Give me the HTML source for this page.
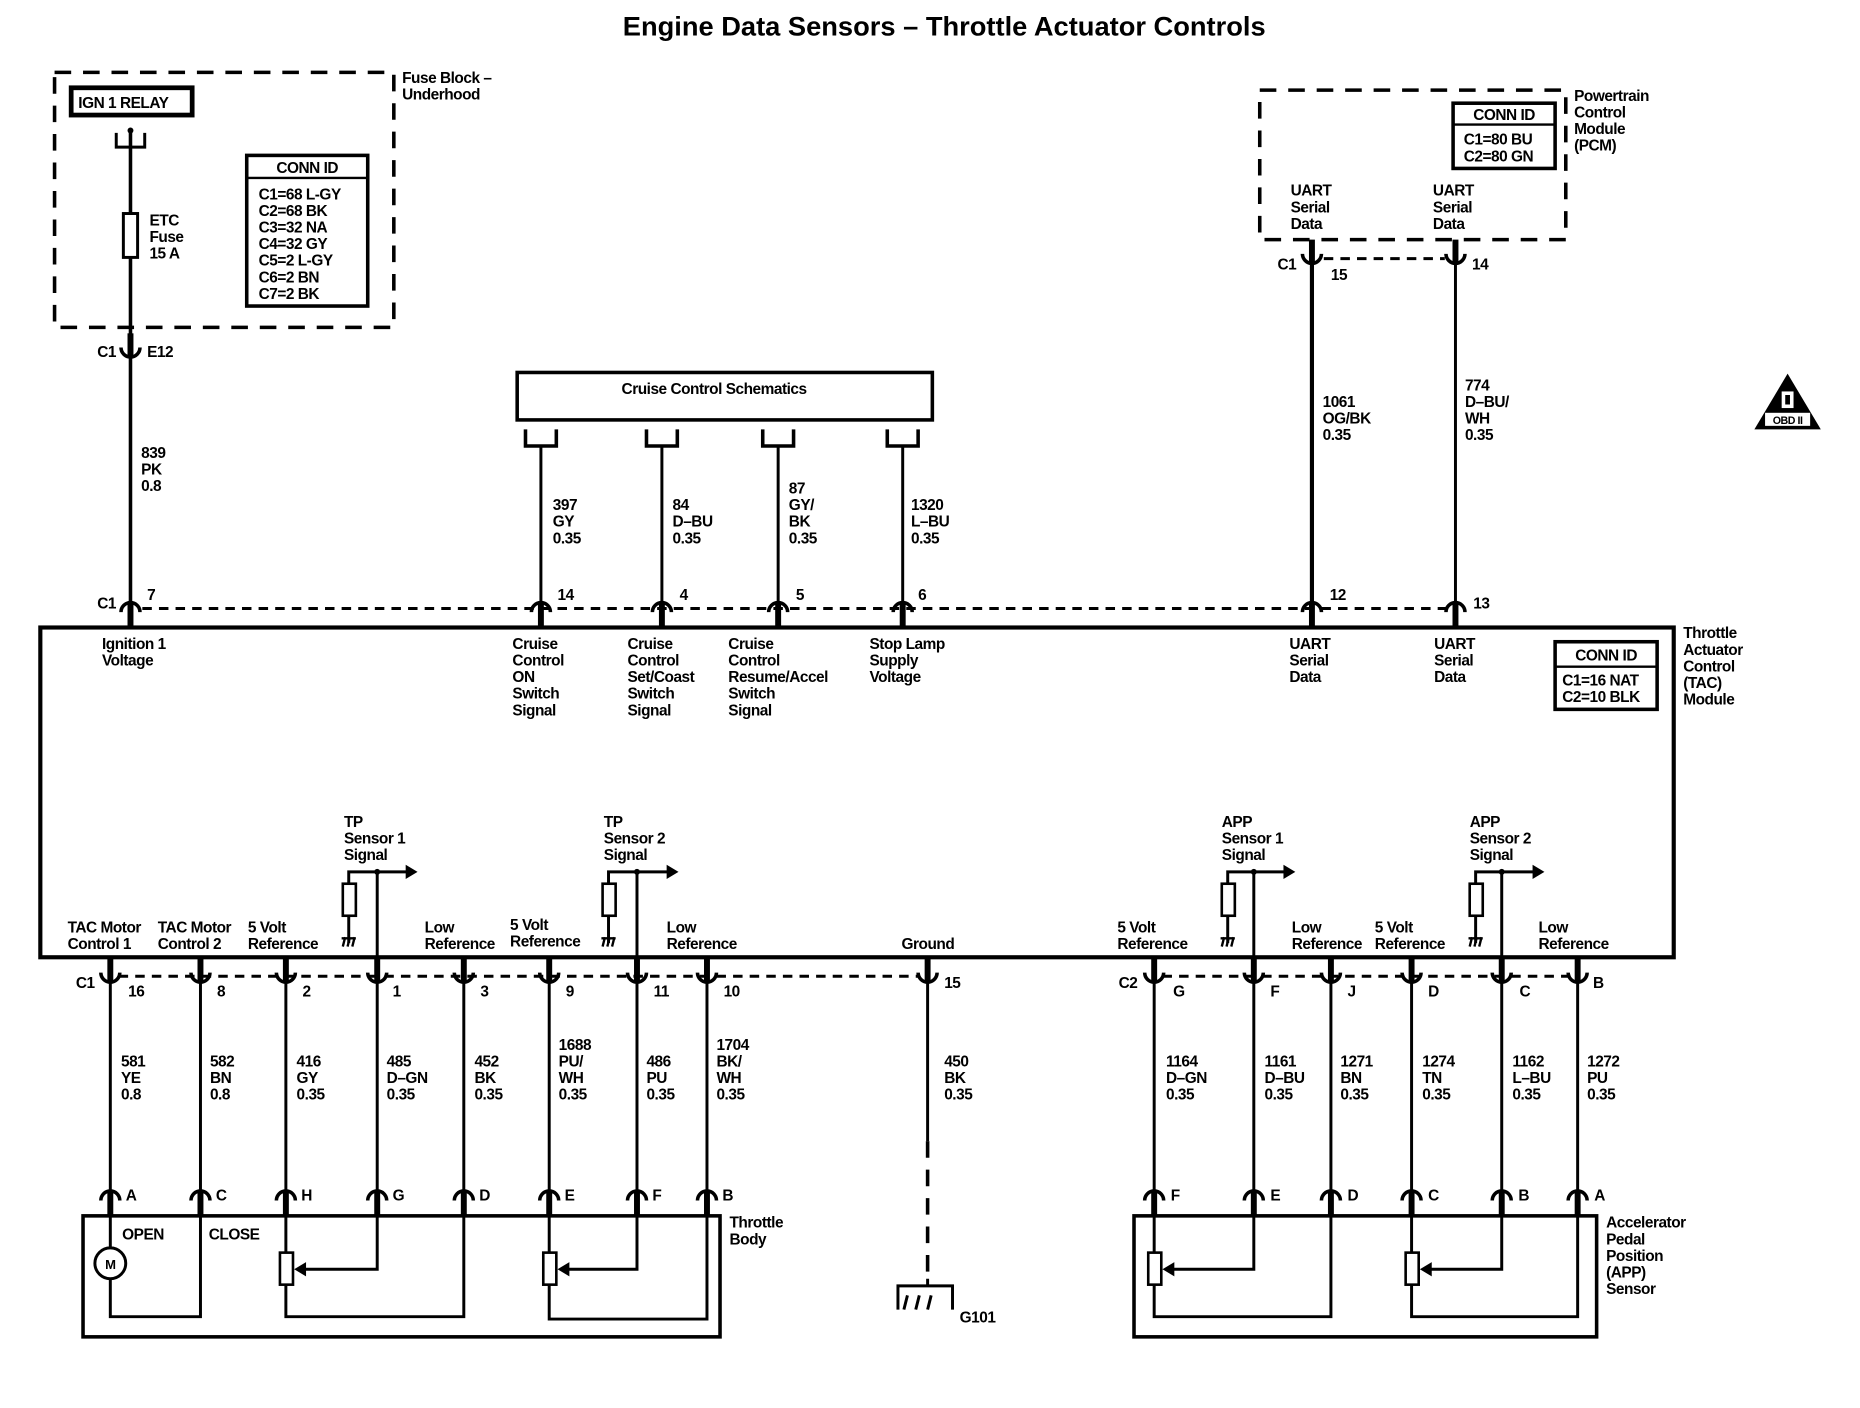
<!DOCTYPE html>
<html><head><meta charset="utf-8"><style>
html,body{margin:0;padding:0;background:#fff;}
svg{display:block;}
text{font-family:"Liberation Sans",sans-serif;font-size:13px;font-weight:bold;fill:#000;letter-spacing:-0.4px;}
.t{font-size:23px;letter-spacing:0;}
.m{text-anchor:middle;}
</style></head><body>
<svg width="1860" height="1408" viewBox="0 0 1550 1173.33" preserveAspectRatio="none" xmlns="http://www.w3.org/2000/svg">
<defs>
<g id="cd"><path d="M-8,4 A8,8 0 0 1 8,4" fill="none" stroke="#000" stroke-width="3"/><rect x="-2.5" y="-4" width="5" height="20" fill="#000"/></g>
<g id="cu"><path d="M-8,-4 A8,8 0 0 0 8,-4" fill="none" stroke="#000" stroke-width="3"/><rect x="-2.5" y="-16" width="5" height="20" fill="#000"/></g>
<g id="gnd"><path d="M-6,8 L-4,0 M-2,8 L0,0 M2,8 L4,0 M-7,1 H5" stroke="#000" stroke-width="2" fill="none"/></g>
</defs>
<rect width="1550" height="1173.33" fill="#fff"/>
<g transform="scale(0.9885)">
<text x="796" y="30" class="t m">Engine Data Sensors – Throttle Actuator Controls</text>

<g fill="none" stroke="#000">
<rect x="46" y="61" width="286" height="215" stroke-width="3" stroke-dasharray="14,10"/>
<rect x="60" y="74" width="102" height="23" stroke-width="4"/>
<rect x="208" y="131" width="102" height="127" stroke-width="3"/>
<line x1="208" y1="150" x2="310" y2="150" stroke-width="2"/>
<path d="M98,112 V124 H122 V112" stroke-width="2.5"/>
<line x1="110" y1="110" x2="110" y2="510" stroke-width="3"/>
<rect x="104" y="180" width="12" height="37" stroke-width="2.5" fill="#fff"/>
<rect x="436" y="314" width="350" height="40" stroke-width="3"/>
<path d="M443,362 V376 H469 V362 M545,362 V376 H571 V362 M643,362 V376 H669 V362 M748,362 V376 H774 V362" stroke-width="3"/>
<path d="M456,376 V510 M558,376 V510 M656,376 V510 M761,376 V510" stroke-width="2.5"/>
<rect x="1062" y="76" width="258" height="126" stroke-width="3" stroke-dasharray="14,10"/>
<rect x="1225" y="87" width="86" height="55" stroke-width="3"/>
<line x1="1225" y1="105" x2="1311" y2="105" stroke-width="2"/>
<line x1="1106" y1="218" x2="1106" y2="510" stroke-width="3.5"/>
<line x1="1227" y1="218" x2="1227" y2="510" stroke-width="2.5"/>
<line x1="1116" y1="218" x2="1218" y2="218" stroke-width="2.5" stroke-dasharray="8,6"/>
<rect x="34" y="529" width="1377" height="278" stroke-width="3.5"/>
<rect x="1311" y="541" width="86" height="57" stroke-width="3"/>
<line x1="1311" y1="562" x2="1397" y2="562" stroke-width="2"/>
<line x1="120" y1="513" x2="1220" y2="513" stroke-width="2.5" stroke-dasharray="8,6"/>
<line x1="100" y1="823" x2="775" y2="823" stroke-width="2.5" stroke-dasharray="8,6"/>
<line x1="980" y1="823" x2="1325" y2="823" stroke-width="2.5" stroke-dasharray="8,6"/>
<path d="M93,828 V1004 M169,828 V1004 M241,828 V1004 M318,828 V1004 M391,828 V1004 M463,828 V1004 M537,828 V1004 M596,828 V1004" stroke-width="2.5"/>
<path d="M973,828 V1004 M1057,828 V1004 M1122,828 V1004 M1190,828 V1004 M1266,828 V1004 M1330,828 V1004" stroke-width="2.5"/>
<path d="M782,828 V962" stroke-width="2.5"/>
<path d="M782,962 V1080" stroke-width="3" stroke-dasharray="14,10"/>
<path d="M782,1078 V1084 M757,1104 V1084 H803 V1104" stroke-width="2.5"/>
<path d="M318,807 V735 M294,772 V795 M294,745 V735 H344" stroke-width="2.5"/>
<rect x="289" y="745" width="11" height="27" stroke-width="2.2"/>
<path d="M537,807 V735 M513,772 V795 M513,745 V735 H563" stroke-width="2.5"/>
<rect x="508" y="745" width="11" height="27" stroke-width="2.2"/>
<path d="M1057,807 V735 M1035,772 V795 M1035,745 V735 H1083" stroke-width="2.5"/>
<rect x="1030" y="745" width="11" height="27" stroke-width="2.2"/>
<path d="M1266,807 V735 M1244,772 V795 M1244,745 V735 H1293" stroke-width="2.5"/>
<rect x="1239" y="745" width="11" height="27" stroke-width="2.2"/>
<rect x="70" y="1025" width="537" height="102" stroke-width="3"/>
<path d="M93,1024 V1052 M93,1078 V1110 H169 V1024" stroke-width="2.5"/>
<circle cx="93" cy="1065" r="13" stroke-width="2.5"/>
<path d="M241,1024 V1110 H391 V1024" stroke-width="2.5"/>
<rect x="236" y="1056" width="11" height="27" stroke-width="2.2" fill="#fff"/>
<path d="M318,1024 V1070 H256" stroke-width="2.5"/>
<path d="M463,1024 V1112 H596 V1024" stroke-width="2.5"/>
<rect x="458" y="1056" width="11" height="27" stroke-width="2.2" fill="#fff"/>
<path d="M537,1024 V1070 H478" stroke-width="2.5"/>
<rect x="956" y="1025" width="390" height="102" stroke-width="3"/>
<path d="M973,1024 V1110 H1122 V1024" stroke-width="2.5"/>
<rect x="968" y="1056" width="11" height="27" stroke-width="2.2" fill="#fff"/>
<path d="M1057,1024 V1070 H988" stroke-width="2.5"/>
<path d="M1190,1024 V1110 H1330 V1024" stroke-width="2.5"/>
<rect x="1185" y="1056" width="11" height="27" stroke-width="2.2" fill="#fff"/>
<path d="M1266,1024 V1070 H1205" stroke-width="2.5"/>
</g>
<g fill="#000">
<circle cx="110" cy="110" r="2.5"/>
<circle cx="318" cy="735" r="2.5"/><circle cx="537" cy="735" r="2.5"/><circle cx="1057" cy="735" r="2.5"/><circle cx="1266" cy="735" r="2.5"/>
<path d="M352,735 l-10,-6 v12z M572,735 l-10,-6 v12z M1092,735 l-10,-6 v12z M1302,735 l-10,-6 v12z"/>
<path d="M248,1070 l10,-6 v12z M470,1070 l10,-6 v12z M980,1070 l10,-6 v12z M1197,1070 l10,-6 v12z"/>
<path d="M762,1104 l3,-12 M772,1104 l3,-12 M782,1104 l3,-12" stroke="#000" stroke-width="2.5"/>
<path d="M1507,315 L1535,362 H1479 Z"/>
<rect x="1502" y="330" width="10" height="14" fill="#fff"/>
<rect x="1505" y="333" width="4" height="8" fill="#000"/>
<rect x="1488" y="348" width="38" height="11" fill="#fff"/>
</g>
<text x="1507" y="357.5" class="m" style="font-size:9px">OBD II</text>

<use href="#cu" x="110" y="297"/>
<use href="#cd" x="110" y="512"/><use href="#cd" x="456" y="512"/><use href="#cd" x="558" y="512"/><use href="#cd" x="656" y="512"/><use href="#cd" x="761" y="512"/><use href="#cd" x="1106" y="512"/><use href="#cd" x="1227" y="512"/>
<use href="#cu" x="1106" y="218"/><use href="#cu" x="1227" y="218"/>
<use href="#cu" x="93" y="824"/><use href="#cu" x="169" y="824"/><use href="#cu" x="241" y="824"/><use href="#cu" x="318" y="824"/><use href="#cu" x="391" y="824"/><use href="#cu" x="463" y="824"/><use href="#cu" x="537" y="824"/><use href="#cu" x="596" y="824"/><use href="#cu" x="782" y="824"/>
<use href="#cu" x="973" y="824"/><use href="#cu" x="1057" y="824"/><use href="#cu" x="1122" y="824"/><use href="#cu" x="1190" y="824"/><use href="#cu" x="1266" y="824"/><use href="#cu" x="1330" y="824"/>
<use href="#cd" x="93" y="1008"/><use href="#cd" x="169" y="1008"/><use href="#cd" x="241" y="1008"/><use href="#cd" x="318" y="1008"/><use href="#cd" x="391" y="1008"/><use href="#cd" x="463" y="1008"/><use href="#cd" x="537" y="1008"/><use href="#cd" x="596" y="1008"/>
<use href="#cd" x="973" y="1008"/><use href="#cd" x="1057" y="1008"/><use href="#cd" x="1122" y="1008"/><use href="#cd" x="1190" y="1008"/><use href="#cd" x="1266" y="1008"/><use href="#cd" x="1330" y="1008"/>
<use href="#gnd" x="295" y="790"/><use href="#gnd" x="514" y="790"/><use href="#gnd" x="1036" y="790"/><use href="#gnd" x="1245" y="790"/>

<text x="66" y="91">IGN 1 RELAY</text>
<text x="339" y="70">Fuse Block –</text><text x="339" y="84">Underhood</text>
<text x="259" y="146" class="m">CONN ID</text>
<text x="218" y="168">C1=68 L-GY</text><text x="218" y="182">C2=68 BK</text><text x="218" y="196">C3=32 NA</text><text x="218" y="210">C4=32 GY</text><text x="218" y="224">C5=2 L-GY</text><text x="218" y="238">C6=2 BN</text><text x="218" y="252">C7=2 BK</text>
<text x="126" y="190">ETC</text><text x="126" y="204">Fuse</text><text x="126" y="218">15 A</text>
<text x="82" y="301">C1</text><text x="124" y="301">E12</text>
<text x="119" y="386">839</text><text x="119" y="400">PK</text><text x="119" y="414">0.8</text>
<text x="602" y="332" class="m">Cruise Control Schematics</text>
<text x="466" y="430">397</text><text x="466" y="444">GY</text><text x="466" y="458">0.35</text>
<text x="567" y="430">84</text><text x="567" y="444">D–BU</text><text x="567" y="458">0.35</text>
<text x="665" y="416">87</text><text x="665" y="430">GY/</text><text x="665" y="444">BK</text><text x="665" y="458">0.35</text>
<text x="768" y="430">1320</text><text x="768" y="444">L–BU</text><text x="768" y="458">0.35</text>
<text x="1327" y="85">Powertrain</text><text x="1327" y="99">Control</text><text x="1327" y="113">Module</text><text x="1327" y="127">(PCM)</text>
<text x="1268" y="101" class="m">CONN ID</text><text x="1234" y="122">C1=80 BU</text><text x="1234" y="136">C2=80 GN</text>
<text x="1088" y="165">UART</text><text x="1088" y="179">Serial</text><text x="1088" y="193">Data</text>
<text x="1208" y="165">UART</text><text x="1208" y="179">Serial</text><text x="1208" y="193">Data</text>
<text x="1077" y="227">C1</text><text x="1122" y="236">15</text><text x="1241" y="227">14</text>
<text x="1115" y="343">1061</text><text x="1115" y="357">OG/BK</text><text x="1115" y="371">0.35</text>
<text x="1235" y="329">774</text><text x="1235" y="343">D–BU/</text><text x="1235" y="357">WH</text><text x="1235" y="371">0.35</text>
<text x="82" y="513">C1</text><text x="124" y="506">7</text><text x="470" y="506">14</text><text x="573" y="506">4</text><text x="671" y="506">5</text><text x="774" y="506">6</text><text x="1121" y="506">12</text><text x="1242" y="513">13</text>
<text x="86" y="547">Ignition 1</text><text x="86" y="561">Voltage</text>
<text x="432" y="547">Cruise</text><text x="432" y="561">Control</text><text x="432" y="575">ON</text><text x="432" y="589">Switch</text><text x="432" y="603">Signal</text>
<text x="529" y="547">Cruise</text><text x="529" y="561">Control</text><text x="529" y="575">Set/Coast</text><text x="529" y="589">Switch</text><text x="529" y="603">Signal</text>
<text x="614" y="547">Cruise</text><text x="614" y="561">Control</text><text x="614" y="575">Resume/Accel</text><text x="614" y="589">Switch</text><text x="614" y="603">Signal</text>
<text x="733" y="547">Stop Lamp</text><text x="733" y="561">Supply</text><text x="733" y="575">Voltage</text>
<text x="1087" y="547">UART</text><text x="1087" y="561">Serial</text><text x="1087" y="575">Data</text>
<text x="1209" y="547">UART</text><text x="1209" y="561">Serial</text><text x="1209" y="575">Data</text>
<text x="1354" y="557" class="m">CONN ID</text><text x="1317" y="578">C1=16 NAT</text><text x="1317" y="592">C2=10 BLK</text>
<text x="1419" y="538">Throttle</text><text x="1419" y="552">Actuator</text><text x="1419" y="566">Control</text><text x="1419" y="580">(TAC)</text><text x="1419" y="594">Module</text>
<text x="290" y="697">TP</text><text x="290" y="711">Sensor 1</text><text x="290" y="725">Signal</text>
<text x="509" y="697">TP</text><text x="509" y="711">Sensor 2</text><text x="509" y="725">Signal</text>
<text x="1030" y="697">APP</text><text x="1030" y="711">Sensor 1</text><text x="1030" y="725">Signal</text>
<text x="1239" y="697">APP</text><text x="1239" y="711">Sensor 2</text><text x="1239" y="725">Signal</text>
<text x="57" y="786">TAC Motor</text><text x="57" y="800">Control 1</text>
<text x="133" y="786">TAC Motor</text><text x="133" y="800">Control 2</text>
<text x="209" y="786">5 Volt</text><text x="209" y="800">Reference</text>
<text x="358" y="786">Low</text><text x="358" y="800">Reference</text>
<text x="430" y="784">5 Volt</text><text x="430" y="798">Reference</text>
<text x="562" y="786">Low</text><text x="562" y="800">Reference</text>
<text x="760" y="800">Ground</text>
<text x="942" y="786">5 Volt</text><text x="942" y="800">Reference</text>
<text x="1089" y="786">Low</text><text x="1089" y="800">Reference</text>
<text x="1159" y="786">5 Volt</text><text x="1159" y="800">Reference</text>
<text x="1297" y="786">Low</text><text x="1297" y="800">Reference</text>
<text x="64" y="833">C1</text><text x="108" y="840">16</text><text x="183" y="840">8</text><text x="255" y="840">2</text><text x="331" y="840">1</text><text x="405" y="840">3</text><text x="477" y="840">9</text><text x="551" y="840">11</text><text x="610" y="840">10</text><text x="796" y="833">15</text>
<text x="943" y="833">C2</text><text x="989" y="840">G</text><text x="1071" y="840">F</text><text x="1136" y="840">J</text><text x="1204" y="840">D</text><text x="1281" y="840">C</text><text x="1343" y="833">B</text>
<text x="102" y="899">581</text><text x="102" y="913">YE</text><text x="102" y="927">0.8</text>
<text x="177" y="899">582</text><text x="177" y="913">BN</text><text x="177" y="927">0.8</text>
<text x="250" y="899">416</text><text x="250" y="913">GY</text><text x="250" y="927">0.35</text>
<text x="326" y="899">485</text><text x="326" y="913">D–GN</text><text x="326" y="927">0.35</text>
<text x="400" y="899">452</text><text x="400" y="913">BK</text><text x="400" y="927">0.35</text>
<text x="471" y="885">1688</text><text x="471" y="899">PU/</text><text x="471" y="913">WH</text><text x="471" y="927">0.35</text>
<text x="545" y="899">486</text><text x="545" y="913">PU</text><text x="545" y="927">0.35</text>
<text x="604" y="885">1704</text><text x="604" y="899">BK/</text><text x="604" y="913">WH</text><text x="604" y="927">0.35</text>
<text x="796" y="899">450</text><text x="796" y="913">BK</text><text x="796" y="927">0.35</text>
<text x="983" y="899">1164</text><text x="983" y="913">D–GN</text><text x="983" y="927">0.35</text>
<text x="1066" y="899">1161</text><text x="1066" y="913">D–BU</text><text x="1066" y="927">0.35</text>
<text x="1130" y="899">1271</text><text x="1130" y="913">BN</text><text x="1130" y="927">0.35</text>
<text x="1199" y="899">1274</text><text x="1199" y="913">TN</text><text x="1199" y="927">0.35</text>
<text x="1275" y="899">1162</text><text x="1275" y="913">L–BU</text><text x="1275" y="927">0.35</text>
<text x="1338" y="899">1272</text><text x="1338" y="913">PU</text><text x="1338" y="927">0.35</text>
<text x="106" y="1012">A</text><text x="182" y="1012">C</text><text x="254" y="1012">H</text><text x="331" y="1012">G</text><text x="404" y="1012">D</text><text x="476" y="1012">E</text><text x="550" y="1012">F</text><text x="609" y="1012">B</text>
<text x="987" y="1012">F</text><text x="1071" y="1012">E</text><text x="1136" y="1012">D</text><text x="1204" y="1012">C</text><text x="1280" y="1012">B</text><text x="1344" y="1012">A</text>
<text x="615" y="1035">Throttle</text><text x="615" y="1049">Body</text>
<text x="103" y="1045">OPEN</text><text x="176" y="1045">CLOSE</text>
<text x="93" y="1070" class="m" style="font-size:11px">M</text>
<text x="1354" y="1035">Accelerator</text><text x="1354" y="1049">Pedal</text><text x="1354" y="1063">Position</text><text x="1354" y="1077">(APP)</text><text x="1354" y="1091">Sensor</text>
<text x="809" y="1115">G101</text>
</g>
</svg>
</body></html>
